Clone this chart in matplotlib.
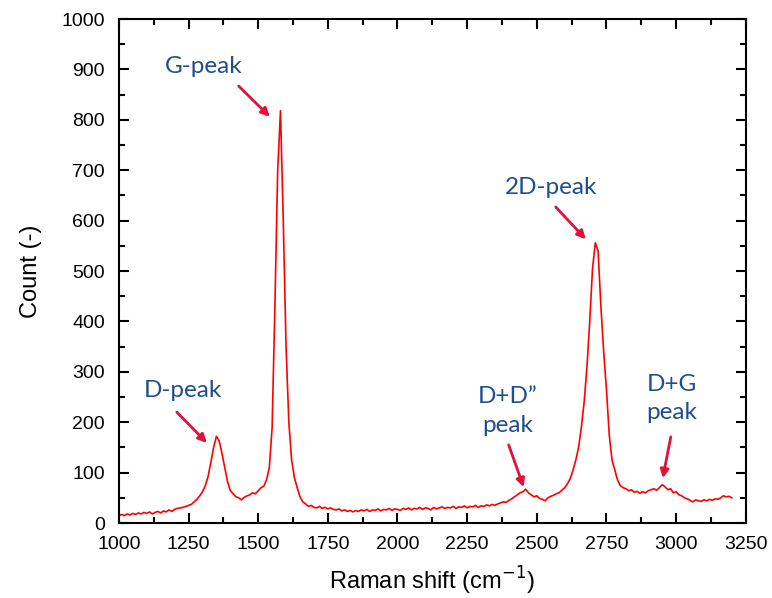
import numpy as np
import matplotlib
matplotlib.use("Agg")
import matplotlib.pyplot as plt
from matplotlib.ticker import MultipleLocator

# Raman spectrum, one value every 10 cm-1 from 1000 to 3200
shift = np.arange(1000, 3201, 10)
count = [
    14, 17, 15, 18, 16, 19, 17, 20, 18, 21,        # 1000
    19, 22, 18, 21, 23, 20, 24, 22, 26, 23,        # 1100
    27, 29, 30, 31, 33, 35, 37, 42, 47, 54,        # 1200
    62, 74, 92, 120, 150, 172, 163, 138, 110, 82,  # 1300
    64, 58, 52, 50, 46, 51, 54, 56, 60, 58,        # 1400
    64, 70, 73, 86, 110, 190, 430, 700, 818, 600,  # 1500
    350, 200, 125, 90, 70, 52, 42, 38, 33, 35,     # 1600
    31, 30, 33, 29, 31, 28, 30, 27, 26, 28,        # 1700
    24, 26, 23, 25, 22, 25, 23, 26, 24, 27,        # 1800
    23, 26, 25, 28, 24, 27, 26, 29, 25, 28,        # 1900
    27, 25, 29, 27, 30, 26, 29, 28, 31, 27,        # 2000
    30, 29, 26, 31, 28, 30, 32, 29, 31, 30,        # 2100
    33, 29, 32, 31, 34, 30, 33, 32, 35, 31,        # 2200
    34, 33, 36, 34, 37, 35, 38, 40, 42, 41,        # 2300
    45, 48, 52, 56, 60, 62, 67, 60, 56, 52,        # 2400
    54, 49, 47, 44, 50, 53, 55, 58, 60, 65,        # 2500
    70, 78, 88, 105, 125, 150, 190, 240, 310, 400, # 2600
    505, 556, 540, 430, 340, 265, 175, 125, 105, 85,  # 2700
    74, 70, 68, 64, 66, 61, 63, 59, 62, 60,        # 2800
    64, 66, 68, 65, 70, 76, 72, 66, 68, 60,        # 2900
    62, 56, 54, 50, 48, 45, 42, 46, 44, 43,        # 3000
    46, 44, 47, 45, 48, 47, 50, 54, 52, 53,        # 3100
    50,                                            # 3200
]

# peak labels: text, label position, arrow tip
labels = ["D-peak", "G-peak", "D+D\u201d\npeak", "2D-peak", "D+G\npeak"]
label_xy = [(1230, 262), (1305, 905), (2396, 222), (2550, 665), (2984, 247)]
arrow_tail = [(1208, 220), (1430, 867), (2399, 155), (2568, 627), (2981, 171)]
arrow_tip = [(1316, 159), (1542, 806), (2453, 71), (2676, 563), (2952, 89)]

plt.rcParams['font.family'] = ['Liberation Sans', 'DejaVu Sans']

fig = plt.figure(figsize=(7.72, 5.98), dpi=100)
ax = fig.add_axes([0.154, 0.1254, 0.812, 0.8428])

ax.plot(shift, count, color='#ff0000', lw=1.2)

for txt, (tx, ty), (ax0, ay0), (hx, hy) in zip(labels, label_xy, arrow_tail, arrow_tip):
    ax.text(tx, ty, txt, ha='center', va='center', fontsize=17.5, family='Lato',
            color='#1f4e8c', linespacing=1.45)
    ax.annotate('', xy=(hx, hy), xytext=(ax0, ay0),
                arrowprops=dict(arrowstyle='-|>,head_length=0.5,head_width=0.25',
                                color='#e0123c', lw=2, shrinkA=0, shrinkB=0))

ax.set_xlim(1000, 3250)
ax.set_ylim(0, 1000)
ax.xaxis.set_major_locator(MultipleLocator(250))
ax.xaxis.set_minor_locator(MultipleLocator(125))
ax.yaxis.set_major_locator(MultipleLocator(100))
ax.yaxis.set_minor_locator(MultipleLocator(50))
ax.tick_params(which='both', direction='in', top=True, right=True, width=1.5,
               labelsize=14)
ax.tick_params(axis='x', pad=9)
ax.tick_params(axis='y', pad=10)
ax.tick_params(which='major', length=7)
ax.tick_params(which='minor', length=4)
for s in ax.spines.values():
    s.set_linewidth(1.5)

ax.set_xlabel("Raman shift (cm$^{-1}$)", fontsize=17, labelpad=9)
ax.set_ylabel("Count (-)", fontsize=17, labelpad=14)

fig.savefig("out.png", dpi=100)
